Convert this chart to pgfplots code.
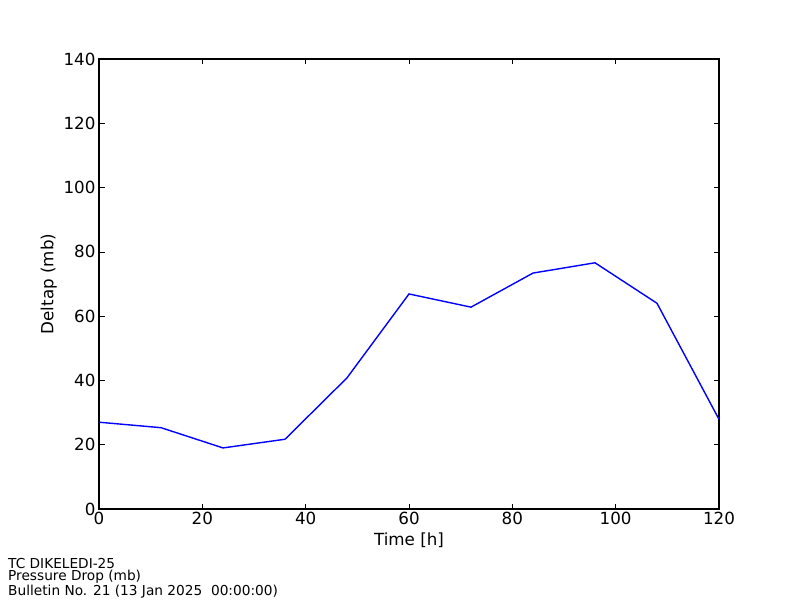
\documentclass[border=0pt]{standalone}
\usepackage{pgfplots}
\pgfplotsset{compat=1.18}
\usepackage{fontspec}
\setmainfont{DejaVu Sans}

\begin{document}
\begin{tikzpicture}
\path[use as bounding box] (0pt,0pt) rectangle (800pt,600pt);
\begin{axis}[
  at={(99pt,91pt)}, anchor=south west,
  scale only axis, width=620pt, height=450pt,
  xmin=0, xmax=120, ymin=0, ymax=140,
  xtick={0,20,...,120}, ytick={0,20,...,140},
  tick align=inside, major tick length=5.5pt,
  tick style={black, line width=0.7pt},
  axis line style={line width=1.2pt},
  font=\fontsize{16.7}{20}\selectfont,
  /pgf/number format/assume math mode=true,
  xlabel={Time [h]}, ylabel={Deltap (mb)},
  xlabel style={at={(axis description cs:0.5,-0.069)}, anchor=center},
  ylabel style={at={(axis description cs:-0.081,0.5)}, anchor=center},
]
  % TC DIKELEDI-25 pressure drop, 12 h steps
  \addplot[blue, line width=1.4pt] coordinates {
    (0,27.0) (12,25.3) (24,19.0) (36,21.7) (48,40.8) (60,66.9)
    (72,62.8) (84,73.4) (96,76.6) (108,64.0) (120,27.9)
  };
\end{axis}
\node[anchor=north west, inner sep=0pt, align=left,
  font=\fontsize{13.7}{12.4}\selectfont] at (8pt,42pt)
  {TC DIKELEDI-25\\Pressure Drop (mb)\\Bulletin No. 21 (13 Jan 2025\ \ 00:00:00)};
\end{tikzpicture}
\end{document}
